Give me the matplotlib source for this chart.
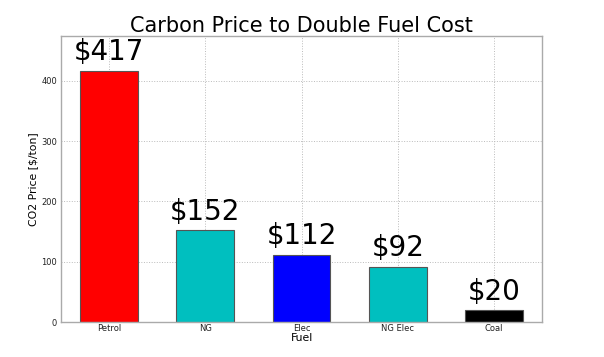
import matplotlib.pyplot as plt

# Precio de CO2 necesario para duplicar el costo de cada combustible
fuels = ['Petrol', 'NG', 'Elec', 'NG Elec', 'Coal']
co2_price = [417, 152, 112, 92, 20]
bar_colors = ['red', 'c', 'blue', 'c', 'black']

fig = plt.figure(figsize=(6.04, 3.57), dpi=100)
ax = fig.add_axes([0.1005, 0.098, 0.7975, 0.802])

x = range(len(fuels))
ax.bar(x, co2_price, width=0.6, color=bar_colors, edgecolor='#555555', linewidth=0.8, zorder=2)

for i, v in enumerate(co2_price):
    ax.text(i, v + 17, f'${v}', ha='center', va='baseline', fontsize=20)

ax.set_xlim(-0.5, len(fuels) - 0.5)
ax.set_ylim(0, 475)
ax.set_xticks(list(x))
ax.set_xticklabels(fuels, fontsize=6, color='#222222')
ax.set_yticks([0, 100, 200, 300, 400])
ax.tick_params(axis='y', labelsize=6, length=0, pad=2.5, labelcolor='#222222')
ax.tick_params(axis='x', length=0, pad=1.5)
ax.set_xlabel('Fuel', fontsize=7.8, labelpad=0)
ax.set_ylabel('CO2 Price [$/ton]', fontsize=7.8, labelpad=2)
ax.set_title('Carbon Price to Double Fuel Cost', fontsize=15, pad=2)

ax.grid(True, ls=':', color='#bbbbbb', linewidth=0.7, zorder=0)
for s in ax.spines.values():
    s.set_color('#aaaaaa')
    s.set_linewidth(1.0)

fig.savefig('out.png', dpi=100)
